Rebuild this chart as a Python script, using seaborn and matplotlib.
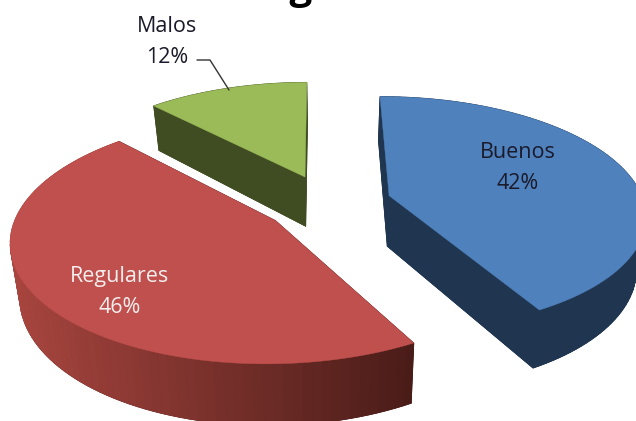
import numpy as np
import matplotlib
matplotlib.use("Agg")
import matplotlib.pyplot as plt
import seaborn as sns

categories = ["Buenos", "Regulares", "Malos"]
values = [42, 46, 12]
title = "Preguntas"

top_colors = ["#4f81bd", "#c0504d", "#9bbb59"]
wall_colors = [["#1f3550", "#1f3550"], ["#a8453f", "#4a1c18"], ["#404d22", "#404d22"]]
side_colors = ["#1f3550", "#4a1c18", "#404d22"]
label_colors = ["#1a1a2a", "#f4eeee", "#1a1a2a"]
label_pos = [(518, 168), (120, 292), (167, 42)]

# look of the fake 3d pie
cx, cy = 328, 203
A, B, k = 255, 116, 0.15
explode = 0.25
start = -0.3
depth = 51
shrink = 0.97


def project(X, Y):
    w = 1 + k * Y
    return cx + A * X / w, cy - B * Y / w, w


def lower(sx, sy, w):
    return cx + (sx - cx) * shrink, sy + depth / w


sns.set_theme(style="white")
plt.rcParams["font.family"] = ["Open Sans", "DejaVu Sans"]

fig, ax = plt.subplots(figsize=(6.36, 4.21), dpi=100)
fig.subplots_adjust(0, 0, 1, 1)
ax.set_xlim(0, 636)
ax.set_ylim(421, 0)
ax.axis("off")

fracs = np.array(values) / sum(values) * 360
bounds = start + np.concatenate([[0], np.cumsum(fracs)])

# green first, red and blue sit in front of it
for i in [2, 1, 0]:
    a0, a1 = np.radians(bounds[i]), np.radians(bounds[i + 1])
    mid = (a0 + a1) / 2
    ox, oy = explode * np.sin(mid), explode * np.cos(mid)
    t = np.linspace(a0, a1, 90)
    X = np.concatenate([[ox], ox + np.sin(t)])
    Y = np.concatenate([[oy], oy + np.cos(t)])
    sx, sy, w = project(X, Y)
    bx, by = lower(sx, sy, w)

    ax.fill(bx, by, color=side_colors[i], lw=0.5)
    # straight sides
    for j in [1, -1]:
        ax.fill([sx[0], sx[j], bx[j], bx[0]], [sy[0], sy[j], by[j], by[0]],
                color=side_colors[i], lw=0.5)
    # round side, shaded from left to right
    shades = sns.blend_palette(wall_colors[i], 60)
    xmin, xmax = sx[1:].min(), sx[1:].max()
    for j in range(1, len(sx) - 1):
        c = shades[int((sx[j] - xmin) / (xmax - xmin) * 59)]
        ax.fill([sx[j], sx[j + 1], bx[j + 1], bx[j]], [sy[j], sy[j + 1], by[j + 1], by[j]],
                color=c, lw=0.6)
    ax.fill(sx, sy, color=top_colors[i], lw=0.3)

for name, val, pos, col in zip(categories, values, label_pos, label_colors):
    ax.text(pos[0], pos[1], f"{name}\n{val}%", color=col, fontsize=15.5, ha="center",
            va="center", linespacing=1.65)

# leader line for the small slice
ax.plot([197, 210, 229], [60, 60, 90], color="#333333", lw=1)

fig.text(325 / 636, 1 + 1 / 421, title, fontsize=29, fontweight="bold", color="black",
         ha="center", va="baseline")

plt.savefig("out.png", dpi=100)
